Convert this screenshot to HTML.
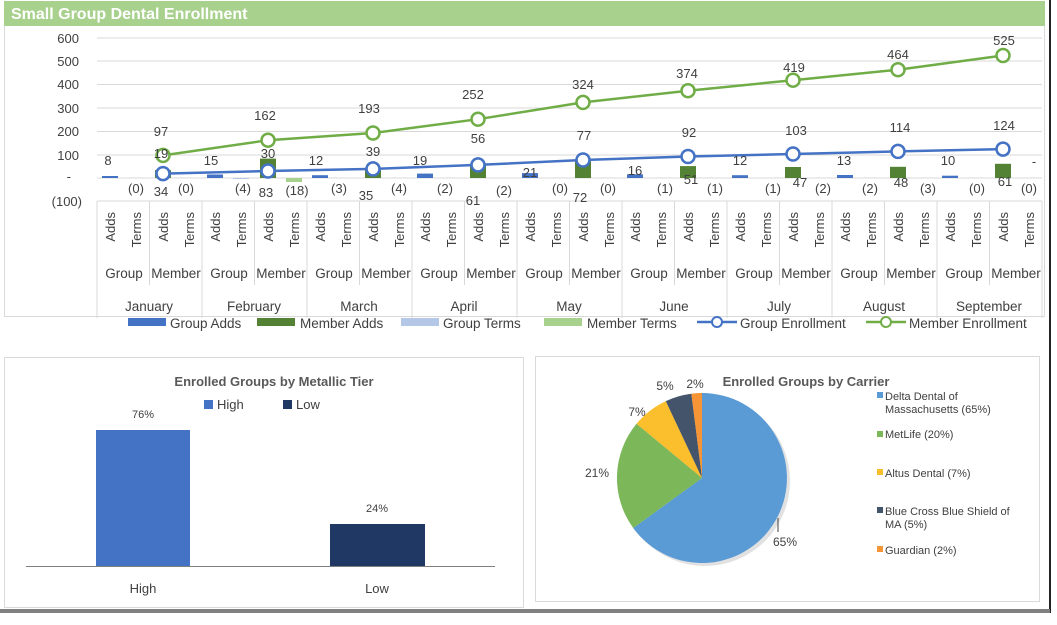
<!DOCTYPE html>
<html><head><meta charset="utf-8"><style>
body{margin:0;background:#fff;width:1057px;height:620px;overflow:hidden;font-family:"Liberation Sans",sans-serif}
</style></head><body>
<svg width="1057" height="620" xmlns="http://www.w3.org/2000/svg" font-family="Liberation Sans, sans-serif">
<rect width="1057" height="620" fill="#fff"/>
<!-- top panel -->
<rect x="4.5" y="1.5" width="1040" height="315" fill="#fff" stroke="#d9d9d9"/>
<rect x="4" y="1" width="1041" height="25" fill="#a9d18e"/>
<text x="11" y="19" font-size="16" font-weight="bold" fill="#fff">Small Group Dental Enrollment</text>
<line x1="1050" y1="0" x2="1050" y2="613" stroke="#222" stroke-width="2"/>
<!-- gridlines -->
<g stroke="#d9d9d9" stroke-width="1">
<line x1="97" y1="38" x2="1042" y2="38"/><line x1="97" y1="61" x2="1042" y2="61"/>
<line x1="97" y1="84.5" x2="1042" y2="84.5"/><line x1="97" y1="108" x2="1042" y2="108"/>
<line x1="97" y1="131.5" x2="1042" y2="131.5"/><line x1="97" y1="155" x2="1042" y2="155"/>
<line x1="97" y1="178" x2="1042" y2="178"/>
</g>
<g font-size="13" fill="#404040" text-anchor="end">
<text x="79" y="43">600</text><text x="79" y="66">500</text><text x="79" y="89">400</text>
<text x="79" y="113">300</text><text x="79" y="136">200</text><text x="79" y="160">100</text>
<text x="71" y="181">-</text><text x="82" y="206">(100)</text>
</g>
<!-- category axis lines -->
<g stroke="#d9d9d9">
<line x1="97" y1="201" x2="1042" y2="201"/>
<line x1="97" y1="201" x2="97" y2="318"/><line x1="202" y1="201" x2="202" y2="318"/><line x1="307" y1="201" x2="307" y2="318"/>
<line x1="412" y1="201" x2="412" y2="318"/><line x1="517" y1="201" x2="517" y2="318"/><line x1="622" y1="201" x2="622" y2="318"/>
<line x1="727" y1="201" x2="727" y2="318"/><line x1="832" y1="201" x2="832" y2="318"/><line x1="937" y1="201" x2="937" y2="318"/>
<line x1="1042" y1="201" x2="1042" y2="318"/>
<line x1="149.5" y1="201" x2="149.5" y2="285"/><line x1="254.5" y1="201" x2="254.5" y2="285"/><line x1="359.5" y1="201" x2="359.5" y2="285"/>
<line x1="464.5" y1="201" x2="464.5" y2="285"/><line x1="569.5" y1="201" x2="569.5" y2="285"/><line x1="674.5" y1="201" x2="674.5" y2="285"/>
<line x1="779.5" y1="201" x2="779.5" y2="285"/><line x1="884.5" y1="201" x2="884.5" y2="285"/><line x1="989.5" y1="201" x2="989.5" y2="285"/>
</g>
<!-- rotated Adds/Terms -->
<g font-size="13" fill="#404040" text-anchor="end">
<text transform="translate(115,212) rotate(-90)">Adds</text><text transform="translate(141,212) rotate(-90)">Terms</text><text transform="translate(168,212) rotate(-90)">Adds</text><text transform="translate(194,212) rotate(-90)">Terms</text>
<text transform="translate(220,212) rotate(-90)">Adds</text><text transform="translate(246,212) rotate(-90)">Terms</text><text transform="translate(273,212) rotate(-90)">Adds</text><text transform="translate(299,212) rotate(-90)">Terms</text>
<text transform="translate(325,212) rotate(-90)">Adds</text><text transform="translate(351,212) rotate(-90)">Terms</text><text transform="translate(378,212) rotate(-90)">Adds</text><text transform="translate(404,212) rotate(-90)">Terms</text>
<text transform="translate(430,212) rotate(-90)">Adds</text><text transform="translate(456,212) rotate(-90)">Terms</text><text transform="translate(483,212) rotate(-90)">Adds</text><text transform="translate(509,212) rotate(-90)">Terms</text>
<text transform="translate(535,212) rotate(-90)">Adds</text><text transform="translate(561,212) rotate(-90)">Terms</text><text transform="translate(588,212) rotate(-90)">Adds</text><text transform="translate(614,212) rotate(-90)">Terms</text>
<text transform="translate(640,212) rotate(-90)">Adds</text><text transform="translate(666,212) rotate(-90)">Terms</text><text transform="translate(693,212) rotate(-90)">Adds</text><text transform="translate(719,212) rotate(-90)">Terms</text>
<text transform="translate(745,212) rotate(-90)">Adds</text><text transform="translate(771,212) rotate(-90)">Terms</text><text transform="translate(798,212) rotate(-90)">Adds</text><text transform="translate(824,212) rotate(-90)">Terms</text>
<text transform="translate(850,212) rotate(-90)">Adds</text><text transform="translate(876,212) rotate(-90)">Terms</text><text transform="translate(903,212) rotate(-90)">Adds</text><text transform="translate(929,212) rotate(-90)">Terms</text>
<text transform="translate(955,212) rotate(-90)">Adds</text><text transform="translate(981,212) rotate(-90)">Terms</text><text transform="translate(1008,212) rotate(-90)">Adds</text><text transform="translate(1034,212) rotate(-90)">Terms</text>
</g>
<g font-size="13.5" fill="#404040" text-anchor="middle">
<text x="124" y="278">Group</text><text x="176" y="278">Member</text><text x="229" y="278">Group</text><text x="281" y="278">Member</text>
<text x="334" y="278">Group</text><text x="386" y="278">Member</text><text x="439" y="278">Group</text><text x="491" y="278">Member</text>
<text x="544" y="278">Group</text><text x="596" y="278">Member</text><text x="649" y="278">Group</text><text x="701" y="278">Member</text>
<text x="754" y="278">Group</text><text x="806" y="278">Member</text><text x="859" y="278">Group</text><text x="911" y="278">Member</text>
<text x="964" y="278">Group</text><text x="1016" y="278">Member</text>
<text x="149" y="311">January</text><text x="254" y="311">February</text><text x="359" y="311">March</text>
<text x="464" y="311">April</text><text x="569" y="311">May</text><text x="674" y="311">June</text>
<text x="779" y="311">July</text><text x="884" y="311">August</text><text x="989" y="311">September</text>
</g>
<!-- bars -->
<g fill="#4472c4">
<rect x="102" y="176" width="16" height="2"/><rect x="207" y="174.5" width="16" height="3.5"/><rect x="312" y="175.2" width="16" height="2.8"/>
<rect x="417" y="173.6" width="16" height="4.4"/><rect x="522" y="173.1" width="16" height="4.9"/><rect x="627" y="174.3" width="16" height="3.7"/>
<rect x="732" y="175.2" width="16" height="2.8"/><rect x="837" y="175" width="16" height="3"/><rect x="942" y="175.7" width="16" height="2.3"/>
</g>
<g fill="#548235">
<rect x="155" y="170.1" width="16" height="7.9"/><rect x="260" y="158.6" width="16" height="19.4"/><rect x="365" y="169.8" width="16" height="8.2"/>
<rect x="470" y="163.8" width="16" height="14.2"/><rect x="575" y="161.2" width="16" height="16.8"/><rect x="680" y="166.1" width="16" height="11.9"/>
<rect x="785" y="167" width="16" height="11"/><rect x="890" y="166.8" width="16" height="11.2"/><rect x="995" y="163.8" width="16" height="14.2"/>
</g>
<rect x="286" y="178" width="16" height="4" fill="#a9d18e"/>
<rect x="233" y="178" width="16" height="1" fill="#b4c7e7"/>
<!-- lines -->
<polyline fill="none" stroke="#70ad47" stroke-width="2.5" points="163,155.4 268,140.2 373,133 478,119.2 583,102.4 688,90.7 793,80.2 898,69.7 1003,55.5"/>
<polyline fill="none" stroke="#4472c4" stroke-width="2.5" points="163,173.6 268,171 373,168.9 478,164.9 583,160 688,156.5 793,154 898,151.4 1003,149.1"/>
<g fill="#fff" stroke="#70ad47" stroke-width="2.5">
<circle cx="163" cy="155.4" r="6.5"/><circle cx="268" cy="140.2" r="6.5"/><circle cx="373" cy="133" r="6.5"/><circle cx="478" cy="119.2" r="6.5"/>
<circle cx="583" cy="102.4" r="6.5"/><circle cx="688" cy="90.7" r="6.5"/><circle cx="793" cy="80.2" r="6.5"/><circle cx="898" cy="69.7" r="6.5"/><circle cx="1003" cy="55.5" r="6.5"/>
</g>
<g fill="#fff" stroke="#4472c4" stroke-width="2.5">
<circle cx="163" cy="173.6" r="6.5"/><circle cx="268" cy="171" r="6.5"/><circle cx="373" cy="168.9" r="6.5"/><circle cx="478" cy="164.9" r="6.5"/>
<circle cx="583" cy="160" r="6.5"/><circle cx="688" cy="156.5" r="6.5"/><circle cx="793" cy="154" r="6.5"/><circle cx="898" cy="151.4" r="6.5"/><circle cx="1003" cy="149.1" r="6.5"/>
</g>
<!-- data labels -->
<g font-size="13" fill="#404040" text-anchor="middle">
<text x="161" y="136">97</text><text x="265" y="120">162</text><text x="369" y="113">193</text><text x="473" y="99">252</text>
<text x="583" y="89">324</text><text x="687" y="78">374</text><text x="794" y="72">419</text><text x="898" y="59">464</text><text x="1004" y="45">525</text>
<text x="161" y="158">19</text><text x="268" y="158">30</text><text x="373" y="156">39</text><text x="478" y="143">56</text>
<text x="584" y="140">77</text><text x="689" y="137">92</text><text x="796" y="135">103</text><text x="900" y="132">114</text><text x="1004" y="130">124</text>
<text x="108" y="165">8</text><text x="211" y="165">15</text><text x="316" y="165">12</text><text x="420" y="165">19</text>
<text x="530" y="177">21</text><text x="635" y="175">16</text><text x="740" y="165">12</text><text x="844" y="165">13</text><text x="948" y="165">10</text>
<text x="161" y="196">34</text><text x="266" y="197">83</text><text x="366" y="200">35</text><text x="473" y="205">61</text>
<text x="580" y="202">72</text><text x="691" y="184">51</text><text x="800" y="187">47</text><text x="901" y="187">48</text><text x="1005" y="186">61</text>
<text x="136" y="193">(0)</text><text x="186" y="193">(0)</text><text x="243" y="193">(4)</text><text x="297" y="195">(18)</text>
<text x="339" y="193">(3)</text><text x="399" y="193">(4)</text><text x="445" y="193">(2)</text><text x="504" y="195">(2)</text>
<text x="560" y="193">(0)</text><text x="608" y="193">(0)</text><text x="665" y="193">(1)</text><text x="715" y="193">(1)</text>
<text x="773" y="193">(1)</text><text x="823" y="193">(2)</text><text x="870" y="193">(2)</text><text x="928" y="193">(3)</text>
<text x="977" y="193">(0)</text><text x="1029" y="193">(0)</text><text x="1034" y="166">-</text>
</g>
<!-- legend -->
<g font-size="13.5" fill="#404040">
<rect x="128" y="318" width="38" height="8" fill="#4472c4"/><text x="170" y="328">Group Adds</text>
<rect x="257" y="318" width="38" height="8" fill="#548235"/><text x="300" y="328">Member Adds</text>
<rect x="401" y="318" width="38" height="8" fill="#b4c7e7"/><text x="443" y="328">Group Terms</text>
<rect x="544" y="318" width="38" height="8" fill="#a9d18e"/><text x="587" y="328">Member Terms</text>
<line x1="697" y1="322" x2="737" y2="322" stroke="#4472c4" stroke-width="2.5"/><circle cx="717" cy="322" r="5" fill="#fff" stroke="#4472c4" stroke-width="2"/><text x="740" y="328">Group Enrollment</text>
<line x1="866" y1="322" x2="906" y2="322" stroke="#70ad47" stroke-width="2.5"/><circle cx="886" cy="322" r="5" fill="#fff" stroke="#70ad47" stroke-width="2"/><text x="909" y="328">Member Enrollment</text>
</g>
<!-- bottom left panel -->
<rect x="4.5" y="357.5" width="519" height="250" fill="#fff" stroke="#d9d9d9"/>
<text x="274" y="386" font-size="13" font-weight="bold" fill="#595959" text-anchor="middle">Enrolled Groups by Metallic Tier</text>
<rect x="204" y="400" width="9" height="9" fill="#4472c4"/><text x="217" y="409" font-size="13" fill="#404040">High</text>
<rect x="283" y="400" width="9" height="9" fill="#203864"/><text x="296" y="409" font-size="13" fill="#404040">Low</text>
<rect x="96" y="430" width="94" height="136" fill="#4472c4"/>
<rect x="330" y="524" width="95" height="42" fill="#203864"/>
<line x1="26" y1="566.5" x2="495" y2="566.5" stroke="#808080"/>
<g font-size="11" fill="#404040" text-anchor="middle"><text x="143" y="418">76%</text><text x="377" y="512">24%</text></g>
<g font-size="13" fill="#404040" text-anchor="middle"><text x="143" y="593">High</text><text x="377" y="593">Low</text></g>
<!-- bottom right panel -->
<rect x="535.5" y="356.5" width="504" height="245" fill="#fff" stroke="#d9d9d9"/>
<text x="806" y="386" font-size="13" font-weight="bold" fill="#595959" text-anchor="middle">Enrolled Groups by Carrier</text>
<g transform="translate(3,3)" opacity="0.25"><circle cx="702" cy="478" r="85" fill="#888"/></g>
<path d="M702,478 L702,393 A85,85 0 1 1 633.2,528 Z" fill="#5b9bd5"/>
<path d="M702,478 L633.2,528 A85,85 0 0 1 636.5,423.8 Z" fill="#7cb85a"/>
<path d="M702,478 L636.5,423.8 A85,85 0 0 1 665.8,401.1 Z" fill="#fbbf2e"/>
<path d="M702,478 L665.8,401.1 A85,85 0 0 1 691.4,393.7 Z" fill="#44546a"/>
<path d="M702,478 L691.4,393.7 A85,85 0 0 1 702,393 Z" fill="#f79536"/>
<line x1="778" y1="518" x2="778" y2="532" stroke="#404040"/>
<g font-size="12" fill="#404040" text-anchor="middle">
<text x="665" y="390">5%</text><text x="695" y="388">2%</text><text x="637" y="416">7%</text>
<text x="597" y="477">21%</text><text x="785" y="546">65%</text>
</g>
<g font-size="11" fill="#404040">
<rect x="877" y="392" width="6" height="6" fill="#5b9bd5"/><text x="885" y="400">Delta Dental of</text><text x="885" y="413">Massachusetts (65%)</text>
<rect x="877" y="431" width="6" height="6" fill="#7cb85a"/><text x="885" y="438">MetLife (20%)</text>
<rect x="877" y="469" width="6" height="6" fill="#fbbf2e"/><text x="885" y="477">Altus Dental (7%)</text>
<rect x="877" y="507" width="6" height="6" fill="#44546a"/><text x="885" y="515">Blue Cross Blue Shield of</text><text x="885" y="528">MA (5%)</text>
<rect x="877" y="546" width="6" height="6" fill="#f79536"/><text x="885" y="554">Guardian (2%)</text>
</g>
<rect x="0" y="609" width="1050" height="4" fill="#808080"/>
</svg>
</body></html>
